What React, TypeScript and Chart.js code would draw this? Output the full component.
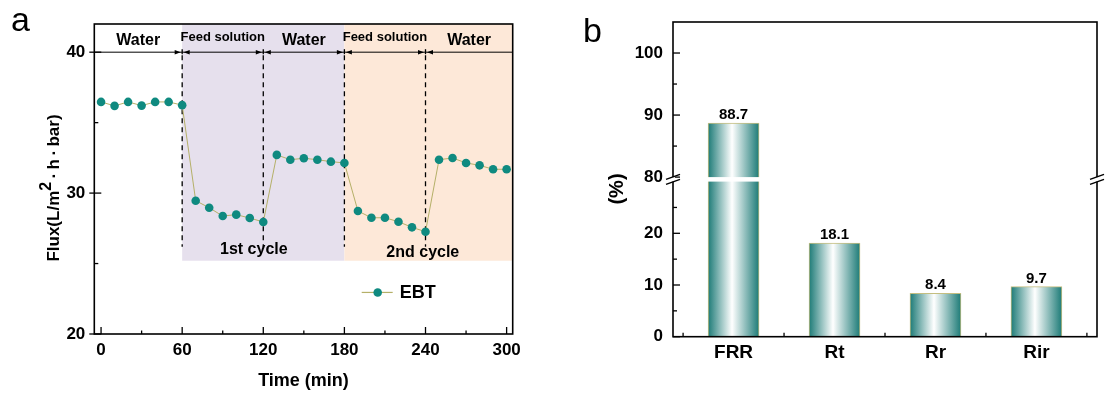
import React, { useEffect, useRef } from 'react';
import { Chart, registerables, LinearScale } from 'chart.js';

const FONT = '"Liberation Sans", Arial, sans-serif';

// ---------------- Panel a data ----------------
const TIME_MIN = [0, 10, 20, 30, 40, 50, 60, 70, 80, 90, 100, 110, 120, 130, 140, 150, 160, 170, 180, 190, 200, 210, 220, 230, 240, 250, 260, 270, 280, 290, 300];
const FLUX_EBT = [36.47, 36.19, 36.47, 36.21, 36.47, 36.47, 36.24, 29.46, 28.96, 28.37, 28.47, 28.23, 27.95, 32.71, 32.37, 32.47, 32.37, 32.23, 32.14, 28.73, 28.25, 28.25, 27.97, 27.57, 27.26, 32.37, 32.49, 32.14, 31.97, 31.69, 31.69];
const SERIES_NAME = 'EBT';
const X_TICKS_A = [0, 60, 120, 180, 240, 300];
const X_MINOR_A = [30, 90, 150, 210, 270];
const Y_TICKS_A = [20, 30, 40];
const Y_MINOR_A = [25, 35];
const PHASE_BOUNDS = [60, 120, 180, 240];
const PHASE_LABELS = ['Water', 'Feed solution', 'Water', 'Feed solution', 'Water'];
const PHASE_LINE_Y = 40;
const CYCLE_LABELS = ['1st cycle', '2nd cycle'];
const CYCLE_RANGES = [[60, 180], [180, 304.5]];
const CYCLE_LABEL_X = [113, 238];
const CYCLE_LABEL_Y = [25.65, 25.45];
const SHADE_BOTTOM = 25.2;
const DASH_BOTTOM = 26.2;
const LEGEND_X = 192.8;
const LEGEND_Y = 22.95;

// ---------------- Panel b data ----------------
const METRICS = ['FRR', 'Rt', 'Rr', 'Rir'];
const METRIC_VALUES = [88.7, 18.1, 8.4, 9.7];
const Y_TICKS_B = [0, 10, 20, 80, 90, 100];
const Y_MINOR_B = [5, 15, 25, 85, 95];
const X_MINOR_B = [-0.5, 0.5, 1.5, 2.5, 3.5];
const BREAK_LOW = 30;
const BREAK_HIGH = 80;

// ---------------- styles ----------------
const TEAL = '#0f8a80';
const LINE_COLOR = '#b5b068';
const LAVENDER = '#e6e0ed';
const PEACH = '#fde8d8';
const BAR_EDGE = '#c4be80';
const BAR_DARK = '#1d7b77';
const BAR_W = 51;
const BREAK_GAP = 4.5;

class BrokenLinearScale extends LinearScale {
  static id = 'brokenLinear';
  static defaults = LinearScale.defaults;
  segs() {
    const s: any = this;
    const half = (s.bottom - s.top - BREAK_GAP) / 2;
    return { half, lowTop: s.bottom - half, highBottom: s.top + half };
  }
  getPixelForValue(value: any) {
    const s: any = this;
    if (value === null || value === undefined || isNaN(value)) return NaN;
    const { half, lowTop, highBottom } = this.segs();
    if (value <= BREAK_LOW) return s.bottom - ((value - s.min) / (BREAK_LOW - s.min)) * half;
    if (value >= BREAK_HIGH) return highBottom - ((value - BREAK_HIGH) / (s.max - BREAK_HIGH)) * half;
    return lowTop - ((value - BREAK_LOW) / (BREAK_HIGH - BREAK_LOW)) * (lowTop - highBottom);
  }
  getValueForPixel(pixel: number) {
    const s: any = this;
    const { half, lowTop, highBottom } = this.segs();
    if (pixel >= lowTop) return s.min + ((s.bottom - pixel) / half) * (BREAK_LOW - s.min);
    if (pixel <= highBottom) return BREAK_HIGH + ((highBottom - pixel) / half) * (s.max - BREAK_HIGH);
    return BREAK_LOW + ((lowTop - pixel) / (lowTop - highBottom)) * (BREAK_HIGH - BREAK_LOW);
  }
}

Chart.register(...registerables, BrokenLinearScale as any);

function seg(ctx: CanvasRenderingContext2D, x0: number, y0: number, x1: number, y1: number) {
  ctx.beginPath();
  ctx.moveTo(x0, y0);
  ctx.lineTo(x1, y1);
  ctx.stroke();
}

function arrowHead(ctx: CanvasRenderingContext2D, tipX: number, y: number, dir: number) {
  ctx.beginPath();
  ctx.moveTo(tipX, y);
  ctx.lineTo(tipX - dir * 6, y - 2.2);
  ctx.lineTo(tipX - dir * 6, y + 2.2);
  ctx.closePath();
  ctx.fill();
}

const panelAPlugin = {
  id: 'panelA',
  beforeDatasetsDraw(chart: any) {
    const { ctx, chartArea: ca } = chart;
    const x = chart.scales.x;
    const y = chart.scales.y;
    ctx.save();
    const shades = [LAVENDER, PEACH];
    CYCLE_RANGES.forEach((r, i) => {
      const x0 = x.getPixelForValue(r[0]);
      const x1 = Math.min(x.getPixelForValue(r[1]), ca.right);
      const yb = y.getPixelForValue(SHADE_BOTTOM);
      ctx.fillStyle = shades[i];
      ctx.fillRect(x0, ca.top, x1 - x0, yb - ca.top);
    });
    const yl = y.getPixelForValue(PHASE_LINE_Y);
    ctx.strokeStyle = '#000';
    ctx.fillStyle = '#000';
    ctx.lineWidth = 1;
    seg(ctx, ca.left, yl, ca.right, yl);
    ctx.lineWidth = 1.3;
    PHASE_BOUNDS.forEach((b) => {
      const px = x.getPixelForValue(b);
      ctx.setLineDash([]);
      seg(ctx, px, yl - 3, px, yl + 2);
      ctx.setLineDash([5, 4]);
      seg(ctx, px, yl + 3, px, y.getPixelForValue(DASH_BOTTOM));
      ctx.setLineDash([]);
      arrowHead(ctx, px - 1.5, yl, 1);
      arrowHead(ctx, px + 1.5, yl, -1);
    });
    const edges = [ca.left, ...PHASE_BOUNDS.map((b) => x.getPixelForValue(b)), ca.right];
    ctx.textAlign = 'center';
    ctx.textBaseline = 'alphabetic';
    PHASE_LABELS.forEach((t, i) => {
      const cx = (edges[i] + edges[i + 1]) / 2;
      const small = t.length > 6;
      ctx.font = `bold ${small ? 13 : 16}px ${FONT}`;
      ctx.fillText(t, cx, small ? yl - 11 : yl - 7.5);
    });
    ctx.font = `bold 16px ${FONT}`;
    CYCLE_LABELS.forEach((t, i) => {
      ctx.fillText(t, x.getPixelForValue(CYCLE_LABEL_X[i]), y.getPixelForValue(CYCLE_LABEL_Y[i]));
    });
    ctx.restore();
  },
  afterDraw(chart: any) {
    const { ctx, chartArea: ca } = chart;
    const x = chart.scales.x;
    const y = chart.scales.y;
    ctx.save();
    ctx.strokeStyle = '#000';
    ctx.lineWidth = 1.6;
    ctx.strokeRect(ca.left, ca.top, ca.right - ca.left, ca.bottom - ca.top);
    ctx.lineWidth = 1.3;
    X_TICKS_A.forEach((v) => { const p = x.getPixelForValue(v); seg(ctx, p, ca.bottom, p, ca.bottom - 7); });
    X_MINOR_A.forEach((v) => { const p = x.getPixelForValue(v); seg(ctx, p, ca.bottom, p, ca.bottom - 3.5); });
    Y_TICKS_A.forEach((v) => { const p = y.getPixelForValue(v); seg(ctx, ca.left - 5, p, ca.left + 7, p); });
    Y_MINOR_A.forEach((v) => { const p = y.getPixelForValue(v); seg(ctx, ca.left, p, ca.left + 4, p); });

    // legend
    const lx = x.getPixelForValue(LEGEND_X);
    const ly = y.getPixelForValue(LEGEND_Y);
    ctx.strokeStyle = LINE_COLOR;
    ctx.lineWidth = 1.2;
    seg(ctx, lx, ly, lx + 31, ly);
    ctx.fillStyle = TEAL;
    ctx.beginPath();
    ctx.arc(lx + 16, ly, 4.3, 0, Math.PI * 2);
    ctx.fill();
    ctx.fillStyle = '#000';
    ctx.font = `bold 18px ${FONT}`;
    ctx.textAlign = 'left';
    ctx.textBaseline = 'middle';
    ctx.fillText(chart.data.datasets[0].label, lx + 38, ly + 1);

    // y title with superscript
    ctx.translate(59, 188);
    ctx.rotate(-Math.PI / 2);
    ctx.textBaseline = 'alphabetic';
    ctx.textAlign = 'left';
    const p1 = 'Flux(L/m';
    const sup = '2';
    const p2 = '\u2009·\u2009h\u2009·\u2009bar)';
    ctx.font = `bold 17px ${FONT}`;
    const w1 = ctx.measureText(p1).width;
    const w2 = ctx.measureText(p2).width;
    ctx.font = `bold 16px ${FONT}`;
    const ws = ctx.measureText(sup).width;
    const x0 = -(w1 + ws + w2) / 2;
    ctx.font = `bold 17px ${FONT}`;
    ctx.fillText(p1, x0, 0);
    ctx.fillText(p2, x0 + w1 + ws, 0);
    ctx.font = `bold 16px ${FONT}`;
    ctx.fillText(sup, x0 + w1, -8);
    ctx.restore();
  },
};

const panelBPlugin = {
  id: 'panelB',
  afterDatasetsDraw(chart: any) {
    const { ctx, chartArea: ca } = chart;
    const y = chart.scales.y;
    const meta = chart.getDatasetMeta(0);
    ctx.save();
    const gTop = y.getPixelForValue(BREAK_HIGH);
    const gBot = y.getPixelForValue(BREAK_LOW);
    ctx.fillStyle = '#fff';
    ctx.fillRect(ca.left + 1, gTop, ca.right - ca.left - 2, gBot - gTop);
    ctx.fillStyle = '#000';
    ctx.font = `bold 15px ${FONT}`;
    ctx.textAlign = 'center';
    ctx.textBaseline = 'alphabetic';
    meta.data.forEach((el: any, i: number) => {
      ctx.fillText(METRIC_VALUES[i].toFixed(1), el.x, el.y - 4);
    });
    ctx.restore();
  },
  afterDraw(chart: any) {
    const { ctx, chartArea: ca } = chart;
    const x = chart.scales.x;
    const y = chart.scales.y;
    ctx.save();
    ctx.strokeStyle = '#000';
    ctx.lineWidth = 1.6;
    ctx.strokeRect(ca.left, ca.top, ca.right - ca.left, ca.bottom - ca.top);
    ctx.lineWidth = 1.3;
    Y_TICKS_B.forEach((v) => { const p = y.getPixelForValue(v); seg(ctx, ca.left, p, ca.left + 7, p); });
    Y_MINOR_B.forEach((v) => { const p = y.getPixelForValue(v); seg(ctx, ca.left, p, ca.left + 4, p); });
    X_MINOR_B.forEach((v) => { const p = x.getPixelForValue(v); seg(ctx, p, ca.bottom, p, ca.bottom - 4); });

    // axis breaks
    const gTop = y.getPixelForValue(BREAK_HIGH);
    const gBot = y.getPixelForValue(BREAK_LOW);
    const yc = (gTop + gBot) / 2;
    [ca.left, ca.right].forEach((ax) => {
      ctx.fillStyle = '#fff';
      ctx.fillRect(ax - 2, gTop, 4, gBot - gTop);
      ctx.strokeStyle = '#000';
      ctx.lineWidth = 1.4;
      seg(ctx, ax - 7, yc, ax + 7, yc - 5);
      seg(ctx, ax - 7, yc + 5, ax + 7, yc);
    });

    // y title
    ctx.fillStyle = '#000';
    ctx.font = `bold 20px ${FONT}`;
    ctx.textAlign = 'center';
    ctx.textBaseline = 'middle';
    ctx.translate(57, 189);
    ctx.rotate(-Math.PI / 2);
    ctx.fillText('(%)', 0, 0);
    ctx.restore();
  },
};

export default function App() {
  const refA = useRef<HTMLCanvasElement>(null);
  const refB = useRef<HTMLCanvasElement>(null);

  useEffect(() => {
    const tickFont = (size: number) => ({ family: FONT, size, weight: 'bold' as const });
    const chartA = new Chart(refA.current as HTMLCanvasElement, {
      type: 'line',
      data: {
        datasets: [
          {
            label: SERIES_NAME,
            data: TIME_MIN.map((t, i) => ({ x: t, y: FLUX_EBT[i] })),
            borderColor: LINE_COLOR,
            borderWidth: 1,
            pointRadius: 4.3,
            pointBackgroundColor: TEAL,
            pointBorderColor: TEAL,
            pointBorderWidth: 0,
            tension: 0,
          },
        ],
      },
      options: {
        responsive: false,
        animation: false,
        layout: { padding: { left: 0, right: 47.3, top: 24, bottom: 0 } },
        plugins: { legend: { display: false }, tooltip: { enabled: false } },
        scales: {
          x: {
            type: 'linear',
            min: -5,
            max: 304.5,
            grid: { display: false, drawTicks: false },
            border: { display: false },
            afterBuildTicks: (s: any) => { s.ticks = X_TICKS_A.map((v) => ({ value: v })); },
            afterFit: (s: any) => { s.height = 62; },
            ticks: { font: tickFont(17), color: '#000', padding: 6, autoSkip: false, maxRotation: 0 },
            title: { display: true, text: 'Time (min)', color: '#000', font: tickFont(18), padding: { top: 0, bottom: 4 } },
          },
          y: {
            type: 'linear',
            min: 20,
            max: 42,
            grid: { display: false, drawTicks: false },
            border: { display: false },
            afterBuildTicks: (s: any) => { s.ticks = Y_TICKS_A.map((v) => ({ value: v })); },
            afterFit: (s: any) => { s.width = 94.3; },
            ticks: { font: tickFont(17), color: '#000', padding: 9, autoSkip: false },
          },
        },
      } as any,
      plugins: [panelAPlugin],
    });

    const chartB = new Chart(refB.current as HTMLCanvasElement, {
      type: 'bar',
      data: {
        datasets: [
          {
            data: METRICS.map((_, i) => ({ x: i, y: METRIC_VALUES[i] })),
            backgroundColor: (c: any) => {
              const xs = c.chart.scales.x;
              if (c.type !== 'data' || !xs || !c.parsed) return BAR_DARK;
              const cx = xs.getPixelForValue(c.parsed.x);
              if (!Number.isFinite(cx)) return BAR_DARK;
              const g = c.chart.ctx.createLinearGradient(cx - BAR_W / 2, 0, cx + BAR_W / 2, 0);
              g.addColorStop(0, BAR_DARK);
              g.addColorStop(0.47, '#ffffff');
              g.addColorStop(1, BAR_DARK);
              return g;
            },
            borderColor: BAR_EDGE,
            borderWidth: 1,
            barThickness: BAR_W,
          },
        ],
      },
      options: {
        responsive: false,
        animation: false,
        layout: { padding: { left: 0, right: 11, top: 22, bottom: 0 } },
        plugins: { legend: { display: false }, tooltip: { enabled: false } },
        scales: {
          x: {
            type: 'linear',
            offset: false,
            min: -0.6,
            max: 3.6,
            grid: { display: false, drawTicks: false, offset: false },
            border: { display: false },
            afterBuildTicks: (s: any) => { s.ticks = METRICS.map((_, i) => ({ value: i })); },
            afterFit: (s: any) => { s.height = 59.3; },
            ticks: {
              font: tickFont(19),
              color: '#000',
              padding: 5,
              autoSkip: false,
              maxRotation: 0,
              callback: (v: any) => METRICS[Math.round(Number(v))],
            },
          },
          y: {
            type: 'brokenLinear',
            min: 0,
            max: 105,
            grid: { display: false, drawTicks: false },
            border: { display: false },
            afterBuildTicks: (s: any) => { s.ticks = Y_TICKS_B.map((v) => ({ value: v })); },
            afterFit: (s: any) => { s.width = 113; },
            ticks: { font: tickFont(17), color: '#000', padding: 10, autoSkip: false },
          },
        },
      } as any,
      plugins: [panelBPlugin],
    });

    return () => {
      chartA.destroy();
      chartB.destroy();
    };
  }, []);

  const letter: React.CSSProperties = {
    position: 'absolute',
    fontFamily: FONT,
    fontSize: 34,
    lineHeight: '34px',
    color: '#000',
  };

  return (
    <div style={{ position: 'absolute', left: 0, top: 0, width: 1108, height: 396, background: '#fff', overflow: 'hidden' }}>
      <canvas ref={refA} width={560} height={396} style={{ position: 'absolute', left: 0, top: 0, width: 560, height: 396 }} />
      <canvas ref={refB} width={548} height={396} style={{ position: 'absolute', left: 560, top: 0, width: 548, height: 396 }} />
      <div style={{ ...letter, left: 11, top: 2 }}>a</div>
      <div style={{ ...letter, left: 583, top: 13 }}>b</div>
    </div>
  );
}
